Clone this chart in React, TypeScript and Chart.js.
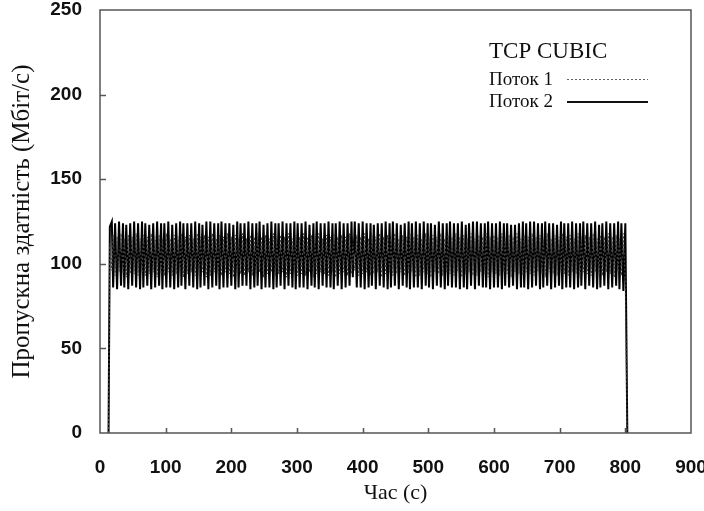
import React, { useEffect, useRef } from "react";
import { Chart, registerables } from "chart.js";

Chart.register(...registerables);

// ---- data ----
const xTickValues = [0, 100, 200, 300, 400, 500, 600, 700, 800, 900];
const yTickValues = [0, 50, 100, 150, 200, 250];

const legendTitle = "TCP CUBIC";
const seriesNames = ["Поток 1", "Поток 2"];
const xAxisTitle = "Час (с)";
const yAxisTitle = "Пропускна здатність (Мбіт/с)";

const sampleTimes = [
  13, 15, 18,
  20, 23, 26, 29, 32, 35, 37, 40, 43, 46,
  49, 52, 55, 58, 61, 64, 66, 69, 72, 75,
  78, 81, 84, 87, 90, 93, 95, 98, 101, 104,
  107, 110, 113, 116, 119, 122, 124, 127, 130, 133,
  136, 139, 142, 145, 148, 151, 153, 156, 159, 162,
  165, 168, 171, 174, 177, 180, 182, 185, 188, 191,
  194, 197, 200, 203, 206, 209, 211, 214, 217, 220,
  223, 226, 229, 232, 235, 238, 240, 243, 246, 249,
  252, 255, 258, 261, 264, 267, 269, 272, 275, 278,
  281, 284, 287, 290, 293, 296, 298, 301, 304, 307,
  310, 313, 316, 319, 322, 325, 327, 330, 333, 336,
  339, 342, 345, 348, 351, 354, 356, 359, 362, 365,
  368, 371, 374, 377, 380, 383, 385, 388, 391, 394,
  397, 400, 403, 406, 409, 412, 414, 417, 420, 423,
  426, 429, 432, 435, 438, 441, 443, 446, 449, 452,
  455, 458, 461, 464, 467, 470, 472, 475, 478, 481,
  484, 487, 490, 493, 496, 499, 501, 504, 507, 510,
  513, 516, 519, 522, 525, 528, 530, 533, 536, 539,
  542, 545, 548, 551, 554, 557, 559, 562, 565, 568,
  571, 574, 577, 580, 583, 586, 588, 591, 594, 597,
  600, 603, 606, 609, 612, 615, 617, 620, 623, 626,
  629, 632, 635, 638, 641, 644, 646, 649, 652, 655,
  658, 661, 664, 667, 670, 673, 675, 678, 681, 684,
  687, 690, 693, 696, 699, 702, 704, 707, 710, 713,
  716, 719, 722, 725, 728, 731, 733, 736, 739, 742,
  745, 748, 751, 754, 757, 760, 762, 765, 768, 771,
  774, 777, 780, 783, 786, 789, 791, 794, 797, 800,
  803,
];

const flow1Values = [
  0, 112, 96,
  117, 93, 116, 95, 118, 94, 115, 92, 117, 94,
  116, 94, 118, 93, 115, 95, 117, 93, 116, 94,
  118, 95, 116, 92, 117, 94, 115, 93, 118, 95,
  115, 93, 117, 94, 116, 95, 118, 92, 116, 94,
  117, 95, 115, 93, 118, 94, 116, 95, 117, 92,
  116, 93, 118, 95, 115, 94, 117, 93, 116, 95,
  118, 94, 116, 92, 117, 95, 115, 94, 118, 93,
  115, 95, 117, 93, 116, 94, 118, 95, 116, 92,
  117, 94, 115, 95, 118, 93, 116, 94, 117, 95,
  116, 92, 118, 94, 115, 95, 117, 93, 116, 94,
  118, 93, 116, 95, 117, 92, 115, 94, 118, 95,
  115, 94, 117, 93, 116, 95, 118, 92, 116, 94,
  117, 95, 116, 93, 118, 94, 112, 96, 117, 93,
  116, 94, 118, 95, 115, 93, 117, 94, 116, 95,
  118, 92, 116, 94, 117, 95, 115, 93, 118, 94,
  115, 95, 117, 93, 116, 94, 118, 95, 116, 92,
  117, 93, 115, 95, 118, 94, 116, 92, 117, 95,
  116, 94, 118, 93, 115, 95, 117, 94, 116, 93,
  118, 95, 116, 92, 117, 94, 115, 95, 118, 93,
  115, 93, 117, 95, 116, 94, 118, 92, 116, 95,
  117, 94, 116, 93, 118, 95, 115, 94, 117, 92,
  116, 95, 118, 94, 115, 93, 117, 95, 116, 94,
  118, 93, 116, 95, 117, 94, 115, 92, 118, 95,
  115, 94, 117, 93, 116, 95, 118, 94, 116, 93,
  117, 95, 115, 94, 118, 92, 116, 95, 117, 94,
  116, 93, 118, 95, 115, 94, 117, 93, 116, 95,
  118, 94, 116, 92, 117, 95, 115, 93, 118, 88,
  0,
];

const flow2Values = [
  0, 122, 125,
  86, 124, 85, 125, 87, 124, 86, 123, 85, 124,
  87, 125, 86, 124, 85, 125, 86, 124, 87, 123,
  85, 124, 86, 125, 87, 124, 85, 124, 86, 125,
  86, 123, 85, 124, 86, 125, 87, 124, 85, 124,
  87, 124, 86, 125, 85, 124, 86, 123, 87, 125,
  85, 125, 86, 124, 87, 124, 85, 125, 86, 124,
  86, 124, 87, 123, 85, 125, 86, 124, 87, 124,
  87, 125, 85, 124, 86, 124, 87, 125, 85, 123,
  86, 124, 86, 125, 85, 124, 86, 124, 87, 125,
  85, 124, 87, 124, 86, 125, 85, 124, 86, 124,
  86, 125, 85, 123, 87, 124, 86, 125, 85, 124,
  87, 124, 86, 125, 86, 124, 85, 124, 87, 125,
  85, 124, 86, 124, 87, 125, 92, 125, 86, 124,
  86, 125, 85, 124, 86, 124, 87, 123, 85, 124,
  87, 124, 86, 125, 85, 124, 86, 125, 87, 124,
  85, 123, 87, 124, 86, 125, 85, 124, 86, 125,
  86, 124, 85, 125, 87, 124, 86, 124, 85, 123,
  87, 125, 86, 124, 85, 124, 87, 125, 86, 124,
  86, 124, 85, 125, 86, 123, 85, 124, 87, 125,
  85, 125, 87, 124, 86, 124, 86, 125, 85, 124,
  86, 124, 86, 125, 85, 124, 87, 124, 86, 123,
  87, 123, 85, 124, 86, 125, 86, 124, 85, 125,
  86, 125, 87, 124, 85, 124, 86, 125, 87, 124,
  85, 124, 86, 123, 87, 125, 85, 124, 86, 124,
  86, 125, 85, 124, 86, 124, 87, 125, 85, 124,
  87, 124, 86, 125, 85, 123, 86, 124, 87, 125,
  85, 124, 86, 124, 87, 125, 85, 124, 84, 124,
  0,
];

const AXIS_COLOR = "#555";
const TEXT_COLOR = "#111";

const framePlugin = {
  id: "frameAndLegend",
  afterDatasetsDraw(chart: any) {
    const { ctx, chartArea: a, scales } = chart;
    ctx.save();
    // frame
    ctx.strokeStyle = AXIS_COLOR;
    ctx.lineWidth = 1.5;
    ctx.strokeRect(a.left, a.top, a.right - a.left, a.bottom - a.top);
    // inward ticks
    const xs = scales.x;
    const ys = scales.y;
    ctx.lineWidth = 1.5;
    ctx.beginPath();
    xs.ticks.forEach((t: any) => {
      if (t.value <= xs.min || t.value >= xs.max) return;
      const px = Math.round(xs.getPixelForValue(t.value)) + 0.5;
      ctx.moveTo(px, a.bottom);
      ctx.lineTo(px, a.bottom - 5);
    });
    ys.ticks.forEach((t: any) => {
      if (t.value <= ys.min || t.value >= ys.max) return;
      const py = Math.round(ys.getPixelForValue(t.value)) + 0.5;
      ctx.moveTo(a.left, py);
      ctx.lineTo(a.left + 6, py);
    });
    ctx.stroke();

    // legend
    const lx = a.right - 202;
    ctx.fillStyle = TEXT_COLOR;
    ctx.textBaseline = "alphabetic";
    ctx.textAlign = "left";
    ctx.font = '23px "Liberation Serif"';
    ctx.fillText(legendTitle, lx, a.top + 48);
    ctx.font = '19px "Liberation Serif"';
    ctx.fillText(seriesNames[0], lx, a.top + 75);
    ctx.fillText(seriesNames[1], lx, a.top + 97);
    const sx0 = lx + 78;
    const sx1 = lx + 159;
    ctx.strokeStyle = "#666";
    ctx.lineWidth = 1;
    ctx.setLineDash([2, 2]);
    ctx.beginPath();
    ctx.moveTo(sx0, a.top + 69.5);
    ctx.lineTo(sx1, a.top + 69.5);
    ctx.stroke();
    ctx.setLineDash([]);
    ctx.strokeStyle = "#111";
    ctx.lineWidth = 2;
    ctx.beginPath();
    ctx.moveTo(sx0, a.top + 92);
    ctx.lineTo(sx1, a.top + 92);
    ctx.stroke();
    ctx.restore();
  },
};

export default function App() {
  const canvasRef = useRef<HTMLCanvasElement | null>(null);

  useEffect(() => {
    if (!canvasRef.current) return;
    const flow1 = sampleTimes.map((t, i) => ({ x: t, y: flow1Values[i] }));
    const flow2 = sampleTimes.map((t, i) => ({ x: t, y: flow2Values[i] }));
    const tickFont = { family: '"Liberation Sans", Arial, sans-serif', size: 19, weight: "bold" as const, lineHeight: 1 };
    const chart = new Chart(canvasRef.current, {
      type: "line",
      data: {
        datasets: [
          {
            label: seriesNames[0],
            data: flow1,
            borderColor: "#444",
            borderWidth: 1.2,
            borderDash: [2, 2],
            pointRadius: 0,
            tension: 0,
            fill: false,
          },
          {
            label: seriesNames[1],
            data: flow2,
            borderColor: "#000",
            borderWidth: 2,
            pointRadius: 0,
            tension: 0,
            fill: false,
          },
        ],
      },
      options: {
        responsive: false,
        animation: false,
        events: [],
        layout: { padding: { top: 10, right: 13, bottom: 0, left: 0 } },
        plugins: {
          legend: { display: false },
          tooltip: { enabled: false },
        },
        scales: {
          x: {
            type: "linear",
            min: 0,
            max: 900,
            afterBuildTicks: (s: any) => {
              s.ticks = xTickValues.map((v) => ({ value: v }));
            },
            afterFit: (s: any) => {
              s.height = 78;
              s.paddingLeft = 0;
              s.paddingRight = 0;
            },
            ticks: {
              color: TEXT_COLOR,
              font: tickFont,
              padding: 25,
              maxRotation: 0,
              autoSkip: false,
            },
            grid: { display: false, drawTicks: false },
            border: { display: false },
            title: {
              display: true,
              text: xAxisTitle,
              color: TEXT_COLOR,
              font: { family: '"Liberation Serif", serif', size: 22, lineHeight: 1.2 },
              padding: { top: 0, bottom: 5 },
            },
          },
          y: {
            type: "linear",
            min: 0,
            max: 250,
            afterBuildTicks: (s: any) => {
              s.ticks = yTickValues.map((v) => ({ value: v }));
            },
            afterFit: (s: any) => {
              s.width = 100;
              s.paddingTop = 0;
              s.paddingBottom = 0;
            },
            ticks: {
              color: TEXT_COLOR,
              font: tickFont,
              padding: 18,
              autoSkip: false,
            },
            grid: { display: false, drawTicks: false },
            border: { display: false },
            title: {
              display: true,
              text: yAxisTitle,
              color: TEXT_COLOR,
              font: { family: '"Liberation Serif", serif', size: 25, lineHeight: 1.2 },
              padding: { top: 7, bottom: 0 },
            },
          },
        },
      },
      plugins: [framePlugin],
    });
    return () => chart.destroy();
  }, []);

  return (
    <div style={{ position: "fixed", left: 0, top: 0, width: 704, height: 511, background: "#fff" }}>
      <canvas ref={canvasRef} width={704} height={511} style={{ display: "block", width: 704, height: 511 }} />
    </div>
  );
}
